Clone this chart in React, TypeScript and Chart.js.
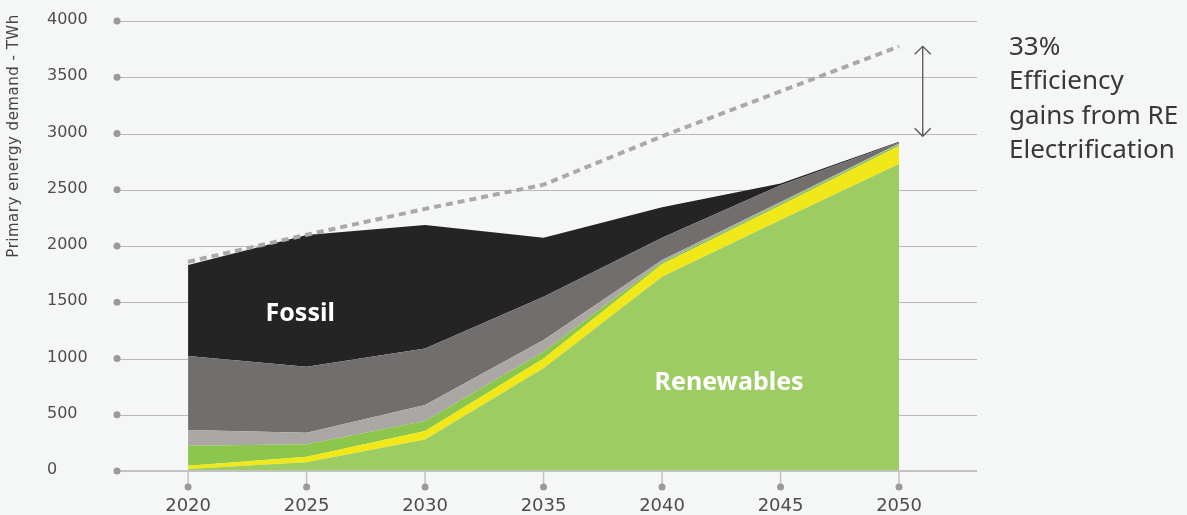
import React, { useEffect, useRef } from 'react';
import { Chart, registerables } from 'chart.js';

Chart.register(...registerables);

// ---- data (TWh) ----
const years = [2020, 2025, 2030, 2035, 2040, 2045, 2050];
const renewables = [18, 77, 281, 913, 1727, 2231, 2729];
const yellowBand = [29, 50, 75, 88, 111, 130, 160];
const greenBand = [178, 110, 88, 60, 18, 17, 16];
const lightGreyBand = [139, 104, 143, 103, 20, 14, 7];
const darkGreyBand = [658, 586, 503, 386, 197, 148, 8];
const fossil = [809, 1171, 1097, 524, 272, 16, 6];
const demandNoElectrification = [1860, 2100, 2330, 2545, 2975, 3375, 3775];
const yTicks = [0, 500, 1000, 1500, 2000, 2500, 3000, 3500, 4000];
const yTitle = 'Primary energy demand - TWh';
const noteLines = ['33%', 'Efficiency', 'gains from RE', 'Electrification'];
const arrowFrom = 3775;
const arrowTo = 2975;

const BG = '#f5f7f6';
const AXIS_FONT = '"DejaVu Sans", sans-serif';
const NOTE_FONT = '"Noto Sans", sans-serif';

const pts = (vals: number[]) => years.map((x, i) => ({ x, y: vals[i] }));

const decor = {
  id: 'decor',
  beforeDraw(chart: any) {
    const { ctx } = chart;
    ctx.save();
    ctx.fillStyle = BG;
    ctx.fillRect(0, 0, chart.width, chart.height);
    ctx.restore();
  },
  beforeDatasetsDraw(chart: any) {
    const { ctx, chartArea, scales } = chart;
    const ys = scales.y;
    ctx.save();
    ctx.strokeStyle = '#b9b9b9';
    ctx.lineWidth = 1.2;
    yTicks.forEach((v) => {
      if (v === 0) return;
      const py = Math.round(ys.getPixelForValue(v)) + 0.5;
      ctx.beginPath();
      ctx.moveTo(chartArea.left, py);
      ctx.lineTo(chartArea.right, py);
      ctx.stroke();
    });
    ctx.restore();
  },
  afterDatasetsDraw(chart: any) {
    const { ctx, chartArea, scales } = chart;
    const xs = scales.x;
    const ys = scales.y;
    ctx.save();
    // baseline
    const by = ys.getPixelForValue(0);
    ctx.strokeStyle = '#c2c2c2';
    ctx.lineWidth = 2;
    ctx.beginPath();
    ctx.moveTo(chartArea.left, by);
    ctx.lineTo(chartArea.right, by);
    ctx.stroke();
    // y dots and labels
    ctx.fillStyle = '#9a9a9a';
    yTicks.forEach((v) => {
      const py = ys.getPixelForValue(v);
      ctx.beginPath();
      ctx.arc(chartArea.left, py, 3.5, 0, Math.PI * 2);
      ctx.fill();
    });
    ctx.fillStyle = '#4d4d4d';
    ctx.font = `16px ${AXIS_FONT}`;
    ctx.textAlign = 'left';
    ctx.textBaseline = 'middle';
    yTicks.forEach((v) => {
      const py = ys.getPixelForValue(v);
      ctx.fillText(String(v), 47, py - 1);
    });
    // x ticks
    years.forEach((yr) => {
      const px = xs.getPixelForValue(yr);
      ctx.strokeStyle = '#c2c2c2';
      ctx.lineWidth = 1.5;
      ctx.beginPath();
      ctx.moveTo(px, by);
      ctx.lineTo(px, by + 13);
      ctx.stroke();
      ctx.fillStyle = '#9a9a9a';
      ctx.beginPath();
      ctx.arc(px, by + 16, 3.5, 0, Math.PI * 2);
      ctx.fill();
      ctx.fillStyle = '#4d4d4d';
      ctx.font = `18px ${AXIS_FONT}`;
      ctx.textAlign = 'center';
      ctx.textBaseline = 'middle';
      ctx.fillText(String(yr), px, by + 35);
    });
    // y title
    ctx.save();
    ctx.translate(14, (chartArea.top + chartArea.bottom) / 2 - 110);
    ctx.rotate(-Math.PI / 2);
    ctx.fillStyle = '#444';
    ctx.font = `15px ${AXIS_FONT}`;
    try { (ctx as any).letterSpacing = '0.5px'; } catch (e) {}
    ctx.textAlign = 'center';
    ctx.textBaseline = 'middle';
    ctx.fillText(yTitle, 0, 0);
    ctx.restore();
    // area labels
    ctx.fillStyle = '#ffffff';
    ctx.font = `bold 25px ${NOTE_FONT}`;
    ctx.textAlign = 'center';
    ctx.textBaseline = 'middle';
    ctx.fillText('Fossil', xs.getPixelForValue(2024.73), ys.getPixelForValue(1396));
    ctx.fillText('Renewables', xs.getPixelForValue(2042.83), ys.getPixelForValue(782));
    // arrow
    const ax = xs.getPixelForValue(2051);
    const a1 = ys.getPixelForValue(arrowFrom);
    const a2 = ys.getPixelForValue(arrowTo);
    ctx.strokeStyle = '#555';
    ctx.lineWidth = 1.3;
    ctx.beginPath();
    ctx.moveTo(ax, a1);
    ctx.lineTo(ax, a2);
    ctx.moveTo(ax - 8, a1 + 8);
    ctx.lineTo(ax, a1);
    ctx.lineTo(ax + 8, a1 + 8);
    ctx.moveTo(ax - 8, a2 - 8);
    ctx.lineTo(ax, a2);
    ctx.lineTo(ax + 8, a2 - 8);
    ctx.stroke();
    // note text
    ctx.fillStyle = '#383838';
    ctx.font = `26px ${NOTE_FONT}`;
    ctx.textAlign = 'left';
    ctx.textBaseline = 'alphabetic';
    noteLines.forEach((t, i) => {
      ctx.fillText(t, 1009, 55 + i * 34.4);
    });
    ctx.restore();
  },
};

export default function App() {
  const ref = useRef<HTMLCanvasElement | null>(null);
  useEffect(() => {
    if (!ref.current) return;
    const area = (label: string, vals: number[], color: string, first = false) => ({
      label,
      data: pts(vals),
      backgroundColor: color,
      borderColor: color,
      borderWidth: 0,
      pointRadius: 0,
      fill: first ? 'origin' : '-1',
      tension: 0,
      stack: 'mix',
      order: 1,
    });
    const chart = new Chart(ref.current, {
      type: 'line',
      data: {
        datasets: [
          area('Renewables', renewables, '#9dcc63', true),
          area('Yellow', yellowBand, '#f1e819'),
          area('Green', greenBand, '#8dc64c'),
          area('Light grey', lightGreyBand, '#aba7a5'),
          area('Dark grey', darkGreyBand, '#736e6e'),
          area('Fossil', fossil, '#242424'),
          {
            label: 'Demand without electrification',
            data: pts(demandNoElectrification),
            borderColor: '#a9a9a9',
            borderWidth: 4,
            borderDash: [7, 5],
            borderCapStyle: 'butt',
            pointRadius: 0,
            fill: false,
            tension: 0,
            stack: 'ref',
            order: 0,
          } as any,
        ],
      },
      options: {
        animation: false,
        responsive: true,
        maintainAspectRatio: false,
        layout: { padding: { left: 117, right: 210, top: 21, bottom: 44 } },
        plugins: { legend: { display: false }, tooltip: { enabled: false } },
        scales: {
          x: { type: 'linear', min: 2017, max: 2053.29, display: false },
          y: { stacked: true, min: 0, max: 4000, display: false },
        },
      } as any,
      plugins: [decor],
    });
    return () => chart.destroy();
  }, []);
  return (
    <div style={{ position: 'fixed', left: 0, top: 0, width: 1187, height: 515, background: BG }}>
      <canvas ref={ref} />
    </div>
  );
}
